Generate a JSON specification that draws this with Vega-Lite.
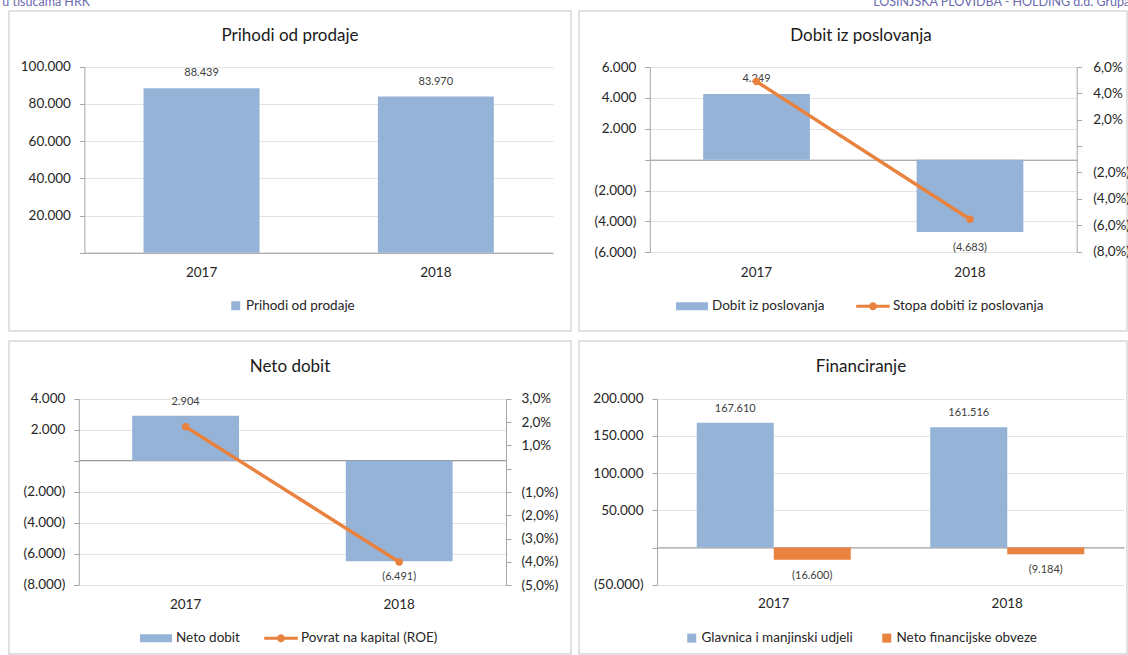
{
  "$schema": "https://vega.github.io/schema/vega-lite/v6.json",
  "padding": {"left": 2, "top": -4, "right": 0, "bottom": 0},
  "autosize": {"type": "pad"},
  "spacing": 6,
  "resolve": {"scale": {"color": "independent"}, "legend": {"color": "independent"}},
  "datasets": {
    "prihodi": [
      {"godina": "2017", "iznos": 88439},
      {"godina": "2018", "iznos": 83970}
    ],
    "dobit": [
      {"godina": "2017", "dobit": 4249, "stopa": 0.049},
      {"godina": "2018", "dobit": -4683, "stopa": -0.0555}
    ],
    "neto": [
      {"godina": "2017", "dobit": 2904, "roe": 0.018},
      {"godina": "2018", "dobit": -6491, "roe": -0.040}
    ],
    "fin": [
      {"godina": "2017", "serija": "Glavnica i manjinski udjeli", "iznos": 167610},
      {"godina": "2017", "serija": "Neto financijske obveze", "iznos": -16600},
      {"godina": "2018", "serija": "Glavnica i manjinski udjeli", "iznos": 161516},
      {"godina": "2018", "serija": "Neto financijske obveze", "iznos": -9184}
    ]
  },
  "hconcat": [
    {
      "title": {"text": "u tisućama HRK", "anchor": "start", "frame": "bounds", "fontSize": 12.5, "color": "#6b6bb0", "offset": 1.5, "dx": -6, "baseline": "top"},
      "spacing": 8,
      "resolve": {"scale": {"color": "independent"}, "legend": {"color": "independent"}},
      "vconcat": [
        {
          "width": 562, "height": 320,
          "data": {"name": "prihodi"},
          "title": {"text": "Prihodi od prodaje", "offset": -34},
          "encoding": {
            "x": {"field": "godina", "type": "nominal", "title": null,
              "scale": {"range": [75.4, 544], "paddingInner": 0, "paddingOuter": 0},
              "axis": {"offset": -78.3, "labelPadding": 19.3}}
          },
          "layer": [
            {
              "mark": {"type": "bar", "width": {"band": 0.495}},
              "encoding": {
                "y": {"field": "iznos", "type": "quantitative", "title": null,
                  "scale": {"domain": [0, 100000], "range": [241.7, 55.7], "nice": false},
                  "axis": {"offset": -75.4, "values": [0, 20000, 40000, 60000, 80000, 100000], "format": "(,.0f", "labelExpr": "datum.value === 0 ? '' : datum.label"}},
                "color": {"datum": "Prihodi od prodaje",
                  "scale": {"domain": ["Prihodi od prodaje"], "range": ["#95B3D7"]},
                  "legend": {"orient": "none", "legendX": 220, "legendY": 288, "title": null, "symbolType": "square", "symbolSize": 81, "labelOffset": 3.5}}
              }
            },
            {
              "mark": {"type": "text", "dy": -15},
              "encoding": {
                "y": {"field": "iznos", "type": "quantitative"},
                "text": {"field": "iznos", "type": "quantitative", "format": "(,.0f"}
              }
            }
          ]
        },
        {
          "width": 562, "height": 313,
          "data": {"name": "neto"},
          "title": {"text": "Neto dobit", "offset": -35},
          "encoding": {
            "x": {"field": "godina", "type": "nominal", "title": null,
              "scale": {"range": [69.8, 497], "paddingInner": 0, "paddingOuter": 0},
              "axis": {"offset": -194, "labelPadding": 144.3}}
          },
          "layer": [
            {
              "layer": [
                {
                  "mark": {"type": "bar", "width": {"band": 0.5}},
                  "encoding": {
                    "y": {"field": "dobit", "type": "quantitative", "title": null,
                      "scale": {"domain": [-8000, 4000], "range": [243.7, 57.7], "nice": false},
                      "axis": {"offset": -69.8, "values": [-8000, -6000, -4000, -2000, 0, 2000, 4000], "format": "(,.0f", "labelExpr": "datum.value === 0 ? '' : datum.label"}},
                    "color": {"datum": "Neto dobit",
                      "scale": {"domain": ["Neto dobit", "Povrat na kapital (ROE)"], "range": ["#95B3D7", "#E8823E"]},
                      "legend": {"orient": "none", "legendX": 131, "legendY": 281, "title": null, "symbolSize": 1024, "labelOffset": 4, "columnPadding": 24,
                        "encode": {"symbols": {"update": {
                          "shape": {"signal": "datum.value === 'Neto dobit' ? 'M-1,-0.25H1V0.25H-1Z' : 'M-1.05,-0.09H1.05V0.09H-1.05Z M0.25,0A0.25,0.25,0,1,1,-0.25,0A0.25,0.25,0,1,1,0.25,0Z'"},
                          "fill": {"signal": "datum.value === 'Neto dobit' ? '#95B3D7' : '#E8823E'"},
                          "stroke": {"value": "transparent"},
                          "strokeWidth": {"value": 0},
                          "opacity": {"value": 1}}}}}}
                  }
                },
                {
                  "transform": [{"filter": "datum.dobit >= 0"}],
                  "mark": {"type": "text", "dy": -14},
                  "encoding": {
                    "y": {"field": "dobit", "type": "quantitative"},
                    "text": {"field": "dobit", "type": "quantitative", "format": "(,.0f"}
                  }
                },
                {
                  "transform": [{"filter": "datum.dobit < 0"}],
                  "mark": {"type": "text", "dy": 16},
                  "encoding": {
                    "y": {"field": "dobit", "type": "quantitative"},
                    "text": {"field": "dobit", "type": "quantitative", "format": "(,.0f"}
                  }
                }
              ]
            },
            {
              "mark": {"type": "line", "strokeWidth": 3.5, "point": {"filled": true, "size": 55}},
              "encoding": {
                "y": {"field": "roe", "type": "quantitative", "title": null,
                  "scale": {"domain": [-0.05, 0.03], "range": [244.3, 57.7], "nice": false},
                  "axis": {"orient": "right", "offset": -65, "grid": false, "labelPadding": 10, "values": [-0.05, -0.04, -0.03, -0.02, -0.01, 0, 0.01, 0.02, 0.03], "format": "(.1%", "labelExpr": "datum.value === 0 ? '' : datum.label"}},
                "color": {"datum": "Povrat na kapital (ROE)"}
              }
            }
          ],
          "resolve": {"scale": {"y": "independent"}}
        }
      ]
    },
    {
      "title": {"text": "LOŠINJSKA PLOVIDBA - HOLDING d.d. Grupa", "anchor": "end", "frame": "bounds", "fontSize": 12.5, "color": "#6b6bb0", "offset": 1.5, "baseline": "top"},
      "spacing": 8,
      "resolve": {"scale": {"color": "independent"}, "legend": {"color": "independent"}},
      "vconcat": [
        {
          "width": 548, "height": 320,
          "data": {"name": "dobit"},
          "title": {"text": "Dobit iz poslovanja", "offset": -34, "dx": 8},
          "encoding": {
            "x": {"field": "godina", "type": "nominal", "title": null,
              "scale": {"range": [70.8, 497.7], "paddingInner": 0, "paddingOuter": 0},
              "axis": {"offset": -171.3, "labelPadding": 112.3}}
          },
          "layer": [
            {
              "layer": [
                {
                  "mark": {"type": "bar", "width": {"band": 0.5}},
                  "encoding": {
                    "y": {"field": "dobit", "type": "quantitative", "title": null,
                      "scale": {"domain": [-6000, 6000], "range": [241.3, 56], "nice": false},
                      "axis": {"offset": -70.8, "values": [-6000, -4000, -2000, 0, 2000, 4000, 6000], "format": "(,.0f", "labelExpr": "datum.value === 0 ? '' : datum.label"}},
                    "color": {"datum": "Dobit iz poslovanja",
                      "scale": {"domain": ["Dobit iz poslovanja", "Stopa dobiti iz poslovanja"], "range": ["#95B3D7", "#E8823E"]},
                      "legend": {"orient": "none", "legendX": 97, "legendY": 279, "title": null, "symbolSize": 1024, "labelOffset": 4, "columnPadding": 31,
                        "encode": {"symbols": {"update": {
                          "shape": {"signal": "datum.value === 'Dobit iz poslovanja' ? 'M-1,-0.25H1V0.25H-1Z' : 'M-1.05,-0.09H1.05V0.09H-1.05Z M0.25,0A0.25,0.25,0,1,1,-0.25,0A0.25,0.25,0,1,1,0.25,0Z'"},
                          "fill": {"signal": "datum.value === 'Dobit iz poslovanja' ? '#95B3D7' : '#E8823E'"},
                          "stroke": {"value": "transparent"},
                          "strokeWidth": {"value": 0},
                          "opacity": {"value": 1}}}}}}
                  }
                },
                {
                  "transform": [{"filter": "datum.dobit >= 0"}],
                  "mark": {"type": "text", "dy": -15},
                  "encoding": {
                    "y": {"field": "dobit", "type": "quantitative"},
                    "text": {"field": "dobit", "type": "quantitative", "format": "(,.0f"}
                  }
                },
                {
                  "transform": [{"filter": "datum.dobit < 0"}],
                  "mark": {"type": "text", "dy": 16},
                  "encoding": {
                    "y": {"field": "dobit", "type": "quantitative"},
                    "text": {"field": "dobit", "type": "quantitative", "format": "(,.0f"}
                  }
                }
              ]
            },
            {
              "mark": {"type": "line", "strokeWidth": 3.5, "point": {"filled": true, "size": 55}},
              "encoding": {
                "y": {"field": "stopa", "type": "quantitative", "title": null,
                  "scale": {"domain": [-0.08, 0.06], "range": [240.5, 56], "nice": false},
                  "axis": {"orient": "right", "offset": -50.3, "grid": false, "labelPadding": 11, "values": [-0.08, -0.06, -0.04, -0.02, 0, 0.02, 0.04, 0.06], "format": "(.1%", "labelExpr": "datum.value === 0 ? '' : datum.label"}},
                "color": {"datum": "Stopa dobiti iz poslovanja"}
              }
            }
          ],
          "resolve": {"scale": {"y": "independent"}}
        },
        {
          "width": 548, "height": 313,
          "data": {"name": "fin"},
          "title": {"text": "Financiranje", "offset": -35, "dx": 8},
          "encoding": {
            "x": {"field": "godina", "type": "nominal", "title": null,
              "scale": {"range": [78, 545], "paddingInner": 0, "paddingOuter": 0},
              "axis": {"offset": -106.7, "labelPadding": 56.4}},
            "xOffset": {"field": "serija", "type": "nominal", "scale": {"paddingInner": 0, "paddingOuter": 0.516}}
          },
          "layer": [
            {
              "mark": {"type": "bar"},
              "encoding": {
                "y": {"field": "iznos", "type": "quantitative", "title": null,
                  "scale": {"domain": [-50000, 200000], "range": [243.7, 57.7], "nice": false},
                  "axis": {"offset": -78, "values": [-50000, 0, 50000, 100000, 150000, 200000], "format": "(,.0f", "labelExpr": "datum.value === 0 ? '' : datum.label"}},
                "color": {"field": "serija", "type": "nominal",
                  "scale": {"domain": ["Glavnica i manjinski udjeli", "Neto financijske obveze"], "range": ["#95B3D7", "#E8823E"]},
                  "legend": {"orient": "none", "legendX": 106, "legendY": 290, "title": null, "symbolType": "square", "symbolSize": 81, "labelOffset": 3, "columnPadding": 27}}
              }
            },
            {
              "transform": [{"filter": "datum.iznos >= 0"}],
              "mark": {"type": "text", "dy": -14},
              "encoding": {
                "y": {"field": "iznos", "type": "quantitative"},
                "text": {"field": "iznos", "type": "quantitative", "format": "(,.0f"}
              }
            },
            {
              "transform": [{"filter": "datum.iznos < 0"}],
              "mark": {"type": "text", "dy": 16},
              "encoding": {
                "y": {"field": "iznos", "type": "quantitative"},
                "text": {"field": "iznos", "type": "quantitative", "format": "(,.0f"}
              }
            }
          ]
        }
      ]
    }
  ],
  "config": {
    "font": "Lato",
    "locale": {"number": {"decimal": ",", "thousands": ".", "grouping": [3], "currency": ["", ""]}},
    "view": {"stroke": "#d6d6d6", "strokeWidth": 1.5},
    "title": {"fontSize": 17, "fontWeight": "normal", "color": "#1a1a1a", "frame": "group", "anchor": "middle", "baseline": "top"},
    "axis": {"labelFontSize": 13.5, "labelColor": "#262626", "domainColor": "#a6a6a6", "tickColor": "#a6a6a6", "tickSize": 5, "gridColor": "#e3e3e3", "labelPadding": 9, "domainWidth": 1, "tickWidth": 1},
    "axisX": {"ticks": false, "grid": false, "labelAngle": 0, "labelBaseline": "middle", "domainColor": "#999999"},
    "axisY": {"grid": true},
    "legend": {"labelFontSize": 13.5, "labelColor": "#262626", "padding": 0, "direction": "horizontal", "symbolStrokeWidth": 0, "labelLimit": 400},
    "bar": {"color": "#95B3D7"},
    "text": {"fontSize": 11, "color": "#404040"}
  }
}
